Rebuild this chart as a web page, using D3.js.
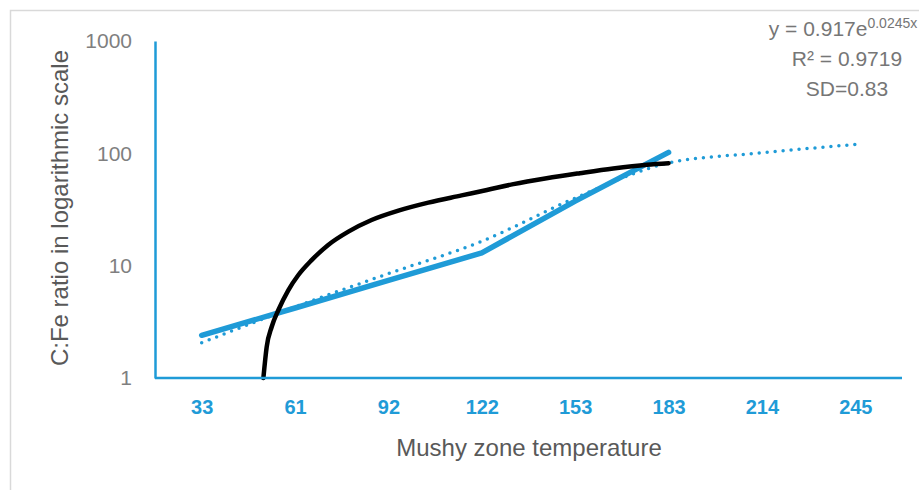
<!DOCTYPE html>
<html>
<head>
<meta charset="utf-8">
<script src="https://cdn.jsdelivr.net/npm/d3@7"></script>
<style>
  body { margin: 0; background: #fff; }
  svg { display: block; font-family: "Liberation Sans", Arial, sans-serif; }
</style>
</head>
<body>
<div id="chart"></div>
<script>
//DATA
const temperatures = [33, 61, 92, 122, 153, 183, 214, 245];
const measuredTemp = [33, 61, 92, 122, 153, 183];
const measuredRatio = [2.4, 4.2, 7.4, 13, 37.5, 102];
const trendTemp = [33, 61, 92, 122, 153, 183, 214, 245];
const trendRatio = [2.06, 4.3, 8.5, 16.5, 40, 82, 101, 120];
const modelTemp = [51.5, 52.5, 54, 56, 59, 62.1, 66.5, 72, 78.7, 86.4, 95.2, 104.8, 115.5, 123.7, 132.5, 143.5, 154.5, 165.2, 176, 183];
const modelRatio = [1, 1.9, 2.86, 4.03, 6.07, 8.26, 11.2, 15.3, 20.1, 25.5, 30.9, 36.4, 42.2, 47.2, 53.2, 60, 66.6, 73.4, 79.3, 81.8];
const yTicks = [1, 10, 100, 1000];
const equationLines = ["R² = 0.9719", "SD=0.83"];

//SETTINGS
const width = 919;
const height = 490;
const margin = { top: 41, right: 17, bottom: 112, left: 155 };
const blue = "#1f9bd7";

const svg = d3.select("#chart")
    .append("svg")
    .attr("width", width)
    .attr("height", height);

//chart frame
svg.append("rect")
    .attr("x", 10.5).attr("y", 10.5)
    .attr("width", 930).attr("height", 500)
    .attr("fill", "none")
    .attr("stroke", "#d9d9d9")
    .attr("stroke-width", 1.5);

//scales
const x = d3.scalePoint()
    .domain(temperatures)
    .range([margin.left, width - margin.right])
    .padding(0.5);

//temperature -> pixel, piecewise through the category positions
const xTemp = d3.scaleLinear()
    .domain(temperatures)
    .range(temperatures.map(t => x(t)));

const y = d3.scaleLog()
    .domain([1, 1000])
    .range([height - margin.bottom, margin.top]);

//lines
const measured = measuredTemp.map((t, i) => ({ t: t, v: measuredRatio[i] }));
const trend = trendTemp.map((t, i) => ({ t: t, v: trendRatio[i] }));
const model = modelTemp.map((t, i) => ({ t: t, v: modelRatio[i] }));

svg.append("path")
    .datum(trend)
    .attr("fill", "none")
    .attr("stroke", blue)
    .attr("stroke-width", 3.5)
    .attr("stroke-linecap", "round")
    .attr("stroke-dasharray", "0 8")
    .attr("d", d3.line().x(d => xTemp(d.t)).y(d => y(d.v)).curve(d3.curveMonotoneX));

svg.append("path")
    .datum(measured)
    .attr("fill", "none")
    .attr("stroke", blue)
    .attr("stroke-width", 5.5)
    .attr("stroke-linecap", "round")
    .attr("stroke-linejoin", "round")
    .attr("d", d3.line().x(d => xTemp(d.t)).y(d => y(d.v)));

svg.append("path")
    .datum(model)
    .attr("fill", "none")
    .attr("stroke", "#000")
    .attr("stroke-width", 4.5)
    .attr("stroke-linecap", "round")
    .attr("d", d3.line().x(d => xTemp(d.t)).y(d => y(d.v)).curve(d3.curveMonotoneX));

//axes
const xAxis = svg.append("g")
    .attr("transform", `translate(0, ${height - margin.bottom})`)
    .call(d3.axisBottom(x).tickSize(0).tickPadding(22));
xAxis.select(".domain").attr("stroke", blue).attr("stroke-width", 2.5)
    .attr("d", `M${margin.left},0H${width - margin.right}`);
xAxis.selectAll("text")
    .attr("fill", blue)
    .attr("font-size", 20)
    .attr("font-weight", "bold")
    .attr("font-family", "Liberation Sans, Arial, sans-serif");

const yAxis = svg.append("g")
    .attr("transform", `translate(${margin.left}, 0)`)
    .call(d3.axisLeft(y).tickValues(yTicks).tickFormat(d3.format("d")).tickSize(0).tickPadding(23));
yAxis.select(".domain").attr("stroke", blue).attr("stroke-width", 2.5);
yAxis.selectAll("text")
    .attr("fill", "#7f7f7f")
    .attr("font-size", 21)
    .attr("font-family", "Liberation Sans, Arial, sans-serif");

//axis titles
svg.append("text")
    .attr("x", 529)
    .attr("y", 456)
    .attr("text-anchor", "middle")
    .attr("fill", "#595959")
    .attr("font-size", 24)
    .text("Mushy zone temperature");

svg.append("text")
    .attr("transform", "translate(68, 208) rotate(-90)")
    .attr("text-anchor", "middle")
    .attr("fill", "#595959")
    .attr("font-size", 24)
    .text("C:Fe ratio in logarithmic scale");

//trendline equation
const eq = svg.append("text")
    .attr("x", 843)
    .attr("y", 36)
    .attr("text-anchor", "middle")
    .attr("fill", "#767676")
    .attr("font-size", 21);
eq.append("tspan").text("y = 0.917e");
eq.append("tspan").attr("font-size", 14).attr("dy", -8).text("0.0245x");

svg.selectAll(".eqline")
    .data(equationLines)
    .join("text")
    .attr("class", "eqline")
    .attr("x", 847)
    .attr("y", (d, i) => 66 + i * 30)
    .attr("text-anchor", "middle")
    .attr("fill", "#767676")
    .attr("font-size", 21)
    .text(d => d);
</script>
</body>
</html>
